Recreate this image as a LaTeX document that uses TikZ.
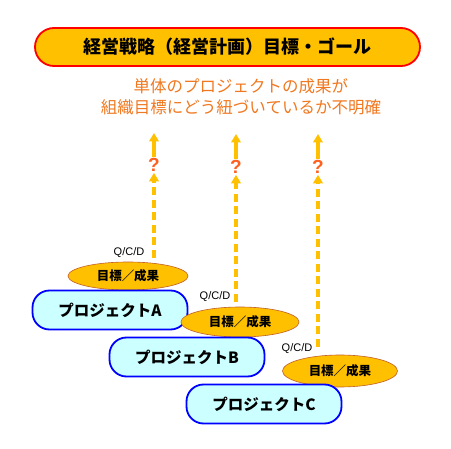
\documentclass[tikz,border=0pt]{standalone}
\usepackage{fontspec}
\setmainfont{Liberation Sans}
\newfontfamily\jp{Noto Sans CJK JP}
\usetikzlibrary{arrows.meta,shapes.geometric}

\definecolor{gold}{HTML}{FFC000}
\definecolor{issueorange}{HTML}{F07820}
\definecolor{askorange}{HTML}{FF6020}
\definecolor{goalred}{HTML}{FF0000}
\definecolor{projblue}{HTML}{0000FF}
\definecolor{projcyan}{HTML}{CCFFFF}
\definecolor{rimbrown}{HTML}{C0602A}

\begin{document}
\begin{tikzpicture}[x=1pt, y=-1pt,
    >={Triangle[width=9.5pt,length=8.5pt]},
    goal/.style={draw=goalred, line width=1.8pt, fill=gold, rounded corners=19pt,
      minimum width=385pt, minimum height=38pt,
      font=\jp\bfseries\fontsize{18}{22}\selectfont},
    project/.style={draw=projblue, line width=1.8pt, fill=projcyan, rounded corners=17pt,
      minimum width=155pt, minimum height=39pt,
      font=\jp\bfseries\fontsize{15.5}{18}\selectfont},
    result/.style={ellipse, draw=rimbrown, line width=0.6pt, fill=gold, inner sep=0pt,
      minimum width=118pt, minimum height=30pt,
      font=\jp\bfseries\fontsize{12.5}{15}\selectfont},
    qcd/.style={font=\fontsize{11}{13}\selectfont, inner sep=0pt},
    ask/.style={text=askorange, font=\bfseries\fontsize{19}{22}\selectfont, inner sep=1pt},
    link/.style={->, gold, line width=3.2pt, dash pattern=on 8pt off 4.5pt},
    hint/.style={->, gold, line width=3.2pt}]
    \useasboundingbox (0,0) rectangle (451,449);

    % Goal banner
    \node[goal] (goal) at (227.5,47) {経営戦略（経営計画）目標・ゴール};

    % Issue text
    \node[text=issueorange, align=center, font=\jp\fontsize{16.5}{21}\selectfont] (issue) at (241,97)
      {単体のプロジェクトの成果が\\組織目標にどう紐づいているか不明確};

    % Question marks
    \node[ask] (q1) at (154,165) {?};
    \node[ask] (q2) at (236,167) {?};
    \node[ask] (q3) at (318,167) {?};
    \coordinate (t1) at (154,133);
    \coordinate (t2) at (236,134);
    \coordinate (t3) at (318,134);

    % Projects and their results
    \node[result, minimum width=120pt, minimum height=28pt] (g1) at (128,276) {目標／成果};
    \node[project] (pA) at (110,310) {プロジェクトA};
    \node[result] (g2) at (240,322) {目標／成果};
    \node[project] (pB) at (187,357) {プロジェクトB};
    \node[result, minimum width=115pt, minimum height=32pt] (g3) at (340,371) {目標／成果};
    \node[project] (pC) at (264,404) {プロジェクトC};

    % Q/C/D labels
    \node[qcd] (c1) at (129,253) {Q/C/D};
    \node[qcd] (c2) at (215,297) {Q/C/D};
    \node[qcd] (c3) at (297,349) {Q/C/D};
    \coordinate (b1) at (154,258);
    \coordinate (b2) at (236,302);
    \coordinate (b3) at (318,347);

    % Links up to the goal
    \foreach \i in {1,2,3} {
      \draw[link] (b\i) -- (q\i.south);
      \draw[hint] (q\i.north) -- (t\i);
    }
\end{tikzpicture}
\end{document}
